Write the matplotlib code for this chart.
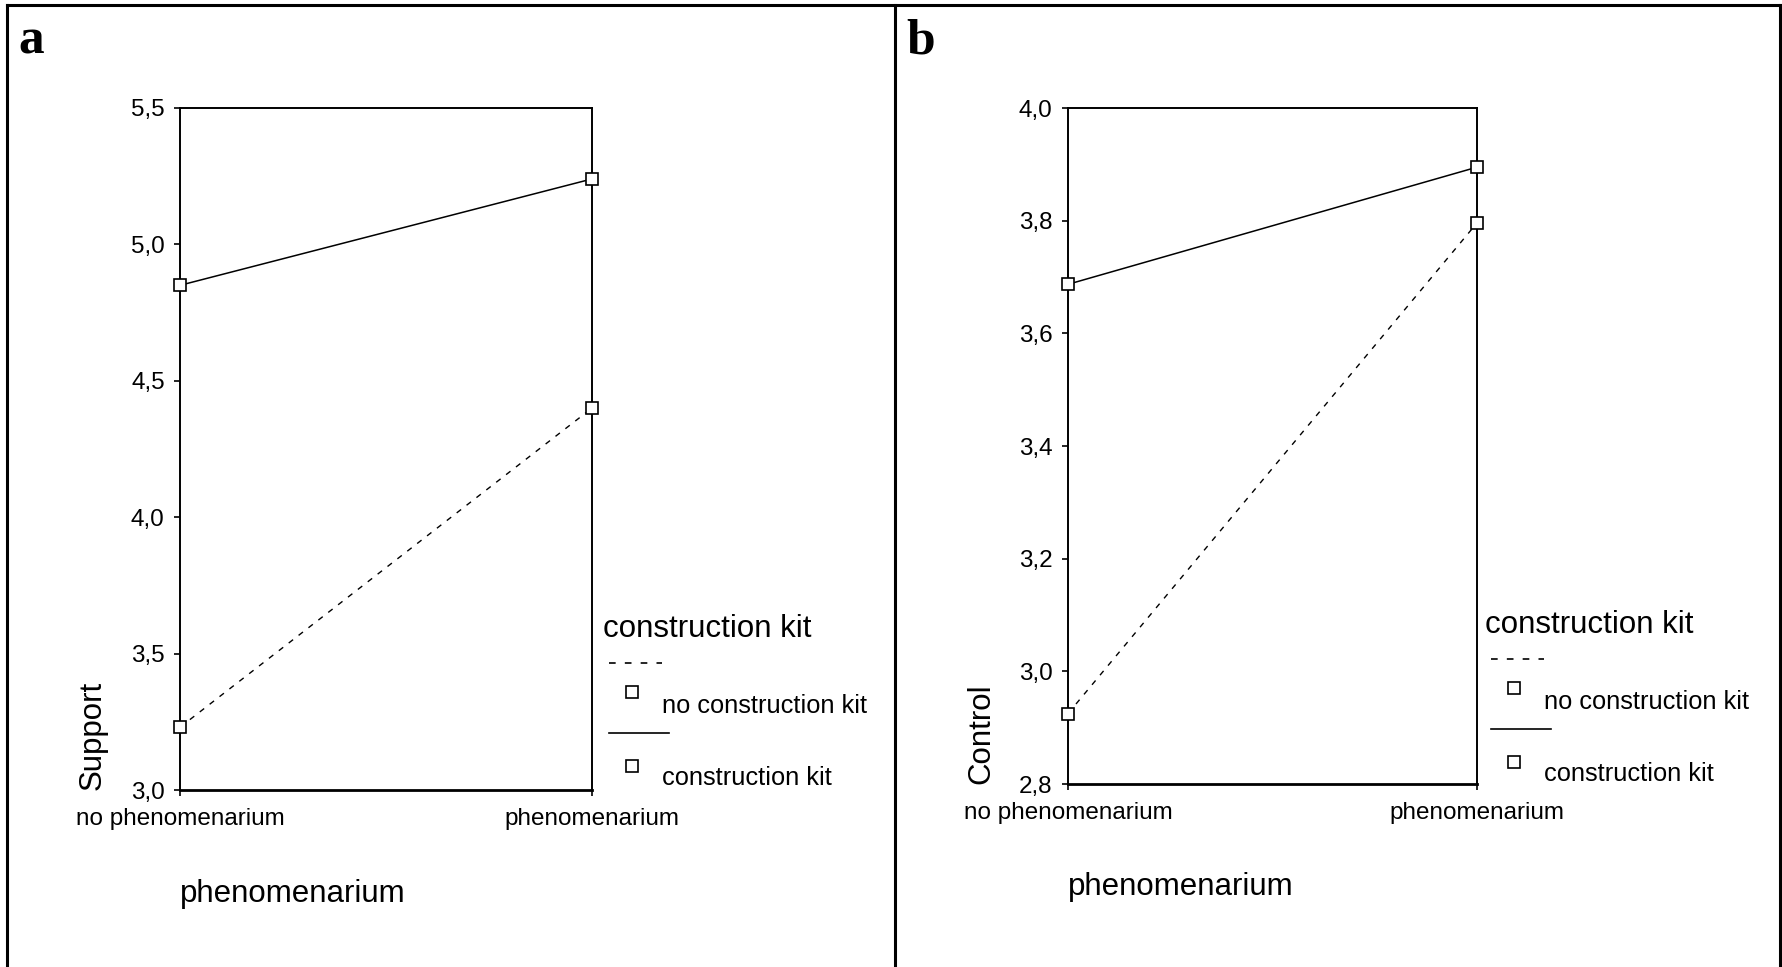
import matplotlib
matplotlib.use('Agg')
import matplotlib.pyplot as plt
from matplotlib.lines import Line2D
from matplotlib.ticker import FuncFormatter

plt.rcParams['font.family'] = ['Liberation Sans', 'DejaVu Sans']

# data
conditions = ['no phenomenarium', 'phenomenarium']
groups = ['no construction kit', 'construction kit']

support_no_kit = [3.23, 4.40]
support_kit = [4.85, 5.24]
support_ticks = [3.0, 3.5, 4.0, 4.5, 5.0, 5.5]

control_no_kit = [2.925, 3.796]
control_kit = [3.687, 3.895]
control_ticks = [2.8, 3.0, 3.2, 3.4, 3.6, 3.8, 4.0]

W, H = 1782, 967
fig = plt.figure(figsize=(W / 100, H / 100), dpi=100)


def fx(px):
    return px / W


def fy(py):
    return 1 - py / H


def comma(v, pos):
    return f"{v:.1f}".replace('.', ',')


# outer frame of the two panels
for xs, ys in [((7, 1780), (5, 5)), ((7, 7), (5, 967)),
               ((895, 895), (5, 967)), ((1780, 1780), (5, 967))]:
    fig.add_artist(Line2D([fx(x) for x in xs], [fy(y) for y in ys],
                          color='black', lw=2.2))

panels = [
    dict(letter='a', lx=18, rect=(180, 108, 592, 790), ylabel='Support',
         no_kit=support_no_kit, kit=support_kit, ticks=support_ticks,
         ylab_x=-0.175, leg=(603, 637)),
    dict(letter='b', lx=906, rect=(1068, 108, 1477, 784), ylabel='Control',
         no_kit=control_no_kit, kit=control_kit, ticks=control_ticks,
         ylab_x=-0.175, leg=(1485, 633)),
]

for p in panels:
    x0, y0, x1, y1 = p['rect']
    ax = fig.add_axes([fx(x0), fy(y1), (x1 - x0) / W, (y1 - y0) / H])
    xs = [0, 1]
    ax.plot(xs, p['no_kit'], color='black', lw=1.0, dashes=(4, 5),
            marker='s', ms=8.5, mfc='white', mec='black', mew=1.2,
            clip_on=False, zorder=5)
    ax.plot(xs, p['kit'], color='black', lw=1.1,
            marker='s', ms=8.5, mfc='white', mec='black', mew=1.2,
            clip_on=False, zorder=5)
    ax.set_xlim(0, 1)
    ax.set_ylim(p['ticks'][0], p['ticks'][-1])
    ax.set_xticks(xs)
    ax.set_xticklabels(conditions)
    ax.set_yticks(p['ticks'])
    ax.yaxis.set_major_formatter(FuncFormatter(comma))
    ax.tick_params(direction='out', length=4, width=1.2, labelsize=17.5,
                   pad=7, colors='black')
    ax.tick_params(axis='x', pad=9)
    for side in ['left', 'top', 'right']:
        ax.spines[side].set_linewidth(1.4)
    ax.spines['bottom'].set_linewidth(2.0)

    ax.set_xlabel('phenomenarium', loc='left', fontsize=22.5)
    ax.xaxis.set_label_coords(0, -0.13)
    ax.set_ylabel(p['ylabel'], loc='bottom', fontsize=22.5)
    ax.yaxis.set_label_coords(p['ylab_x'], 0)

    # panel letter
    fig.text(fx(p['lx']), fy(53), p['letter'], fontsize=37,
             fontweight='bold', family=['Liberation Serif', 'DejaVu Serif'],
             va='baseline', ha='left')

    # legend in the style of the original output
    lx, ly = p['leg']
    fig.text(fx(lx), fy(ly), 'construction kit', fontsize=22.5,
             va='baseline')
    fig.add_artist(Line2D([fx(lx + 6), fx(lx + 59)], [fy(ly + 26)] * 2,
                          color='black', lw=1.2, dashes=(4, 5.5)))
    fig.add_artist(Line2D([fx(lx + 6), fx(lx + 66)], [fy(ly + 96)] * 2,
                          color='black', lw=1.2))
    for dy_m, dy_t, name in [(55, 76, groups[0]), (129, 148, groups[1])]:
        fig.add_artist(Line2D([fx(lx + 29)], [fy(ly + dy_m)], marker='s',
                              ms=8.5, mfc='white', mec='black', mew=1.2,
                              ls='none'))
        fig.text(fx(lx + 59), fy(ly + dy_t), name, fontsize=18.3,
                 va='baseline')

fig.savefig('out.png', dpi=100, facecolor='white')
